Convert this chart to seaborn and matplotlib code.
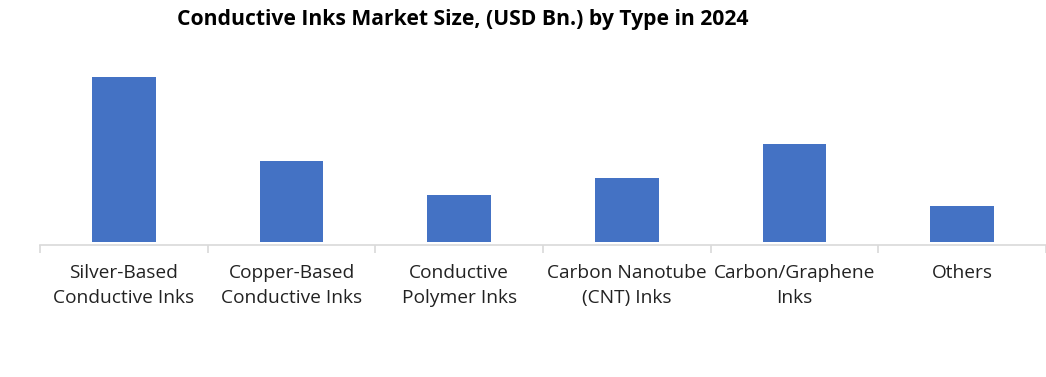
import matplotlib
matplotlib.use("Agg")
import matplotlib.pyplot as plt
import seaborn as sns
import pandas as pd
import numpy as np

categories = ["Silver-Based\nConductive Inks", "Copper-Based\nConductive Inks",
              "Conductive\nPolymer Inks", "Carbon Nanotube\n(CNT) Inks",
              "Carbon/Graphene\nInks", "Others"]
values = [3.30, 1.62, 0.94, 1.28, 1.96, 0.72]

sns.set_theme(style="white")
plt.rcParams['font.family'] = ['Open Sans', 'DejaVu Sans']

df = pd.DataFrame({"Type": categories, "Value": values})

fig = plt.figure(figsize=(10.46, 3.77), dpi=100)
ax = fig.add_axes([40/1046, 135/377, 1006/1046, (242-77)/377])

sns.barplot(data=df, x="Type", y="Value", color="#4472C4", width=0.38,
            saturation=1, linewidth=0, ax=ax)
ax.set_ylim(0, 3.30)
ax.set_xlim(-0.5, len(categories) - 0.5)
ax.set_xlabel("")
ax.set_ylabel("")
ax.set_yticks([])
for s in ["top", "right", "left"]:
    ax.spines[s].set_visible(False)
ax.spines["bottom"].set_color("#D9D9D9")
ax.spines["bottom"].set_linewidth(1.2)
ax.spines["bottom"].set_position(("outward", 2))

ax.set_xticks(np.arange(len(categories)))
ax.set_xticklabels(categories, fontsize=13.8, color="#222222", linespacing=1.45)
ax.tick_params(axis="x", which="major", length=0, pad=14)
ax.set_xticks(np.arange(-0.5, len(categories)), minor=True)
ax.tick_params(axis="x", which="minor", bottom=True, length=6, width=1.2,
               color="#D9D9D9", direction="out")

fig.text(463/1046, 1 - 20/377, "Conductive Inks Market Size, (USD Bn.) by Type in 2024",
         ha="center", va="center", fontsize=15.2, fontweight="bold", color="black")

fig.savefig("out.png", dpi=100)
